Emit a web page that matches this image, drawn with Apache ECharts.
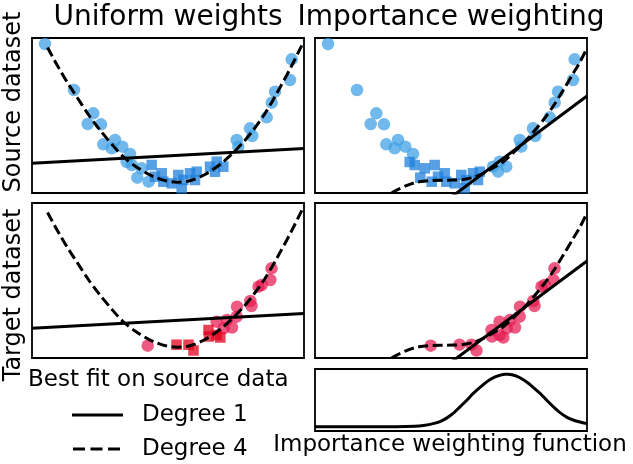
<!DOCTYPE html>
<html><head><meta charset="utf-8">
<script src="https://cdn.jsdelivr.net/npm/echarts@6/dist/echarts.min.js"></script>
<style>html,body{margin:0;padding:0;background:#fff}#c{width:633px;height:464px}</style>
</head><body><div id="c"></div>
<script>
// ---------- data ----------
// Source dataset (shared by the two top panels)
const srcX = [13, 42, 61.3, 55.7, 69, 71.3, 83, 79.7, 90.3, 98, 94.7, 99.7, 109.7, 105.3, 116.7, 119.7, 123, 129.7, 131.3, 139.7, 146.3, 151.3, 149.7, 158, 163, 164.7, 178, 184.7, 191.3, 183, 204.7, 206.3, 218, 220.3, 234.7, 239.7, 243, 258, 259.7];
const srcY = [149, 103, 79.7, 69, 68.7, 48.7, 53, 44.7, 46.3, 39, 31, 28, 24.7, 15.3, 11.3, 28, 16.3, 19.7, 11.3, 9.7, 18, 13, 4.7, 19.7, 13, 21.3, 26.3, 31.3, 26.3, 21.3, 53, 46.3, 64.7, 57, 75.7, 90.3, 101.3, 113, 133.7];
// indices of source points drawn as squares in each panel
const srcSquaresUniform = [15, 16, 17, 18, 19, 20, 21, 22, 23, 24, 25, 26, 27, 28, 29];
const srcSquaresImportance = [10, 11, 12, 13, 14, 15, 16, 17, 18, 19, 20, 21, 22, 23, 24, 25];

// Target dataset (shared by the two middle panels)
const tgtX = [115.7, 144.5, 156.5, 161.5, 177, 176.5, 184.5, 184.7, 188.3, 191.7, 195, 200, 204.7, 205, 218.3, 219.5, 226.5, 229.7, 238.3, 239.5];
const tgtY = [12.3, 13.3, 13.3, 7.5, 21.5, 28, 36.3, 23, 20.5, 29.7, 38, 30.5, 41.3, 51.3, 57, 52, 71.3, 73, 78, 89.7];
const tgtSquaresUniform = [1, 2, 3, 4, 5, 7, 8];
const tgtSquaresImportance = [];

// Best fits on source data
const fit1UniformX = [0, 272];
const fit1UniformY = [29.7, 44.5];
const fit4UniformX = [15.5, 22, 28, 36, 44.7, 56, 68, 80, 91, 103, 114.7, 125, 134.7, 144.7, 154.7, 163, 172, 181, 191, 201, 211, 221, 233, 244.7, 258, 272];
const fit4UniformY = [145.5, 133.5, 123, 109.5, 96.3, 79, 63, 48.5, 36.5, 27, 19.8, 15, 12, 10.8, 11.5, 13.8, 18, 23.5, 31, 40, 50.5, 62.5, 79.5, 99.5, 124, 152];
const fit1ImportanceX = [120, 272];
const fit1ImportanceY = [-16.2, 97];
const fit4ImportanceX = [66, 72, 76.7, 84, 90, 96, 101.7, 108, 118, 128, 138, 148, 158, 168.3, 178, 188.3, 198, 208.3, 218, 228.3, 238, 248.3, 258.3, 265, 272];
const fit4ImportanceY = [-10, -4, 0, 4, 6.8, 9.2, 10.8, 11.8, 12.5, 12.7, 12.9, 13.5, 15.5, 19.7, 25, 31.3, 40, 49.7, 60.5, 73, 86.5, 103, 119.7, 131, 145];

// Importance weighting function
const weightX = [0, 60, 100, 110, 118, 125, 132, 139, 145, 152, 158, 165, 172, 179, 185, 190, 193, 197, 202, 208, 214, 220, 226, 232, 239, 245, 252, 258, 265, 272];
const weightY = [0, 0, 0.01, 0.03, 0.06, 0.10, 0.17, 0.27, 0.38, 0.51, 0.63, 0.75, 0.86, 0.94, 0.98, 1.0, 1.0, 0.99, 0.96, 0.9, 0.82, 0.72, 0.62, 0.5, 0.37, 0.27, 0.18, 0.13, 0.09, 0.06];

// Texts
const colTitles = ['Uniform weights', 'Importance weighting'];
const rowTitles = ['Source dataset', 'Target dataset'];
const legendTitle = 'Best fit on source data';
const legendNames = ['Degree 1', 'Degree 4'];
const weightTitle = 'Importance weighting function';

// ---------- chart ----------
const FONT = 'DejaVu Sans';
const BLUE_C = '#3a9ee4', BLUE_S = '#1f80dc', RED_C = '#e6194f', RED_S = '#e0001c';

function pts(xs, ys, keep) {
  const out = [];
  for (let i = 0; i < xs.length; i++) if (!keep || keep(i)) out.push([xs[i], ys[i]]);
  return out;
}
const grids = [
  {left: 32, top: 38, width: 272, height: 155},
  {left: 315, top: 38, width: 272, height: 155},
  {left: 32, top: 203, width: 272, height: 155},
  {left: 315, top: 203, width: 272, height: 155},
  {left: 315, top: 369, width: 272, height: 62}
].map(g => Object.assign(g, {show: true, borderColor: '#000', borderWidth: 1.8, backgroundColor: 'rgba(0,0,0,0)'}));

const xAxes = grids.map((g, i) => ({type: 'value', gridIndex: i, min: 0, max: 272, show: false}));
const yAxes = grids.map((g, i) => i < 4
  ? {type: 'value', gridIndex: i, min: 0, max: 155, show: false}
  : {type: 'value', gridIndex: i, min: -0.08, max: 1.1, show: false});

const series = [];
function scatter(idx, xs, ys, squares, cColor, sColor) {
  const sq = new Set(squares);
  series.push({type: 'scatter', xAxisIndex: idx, yAxisIndex: idx, z: 2, symbol: 'circle', symbolSize: 12.5,
    itemStyle: {color: cColor, opacity: 0.72}, data: pts(xs, ys, i => !sq.has(i)), silent: true});
  series.push({type: 'scatter', xAxisIndex: idx, yAxisIndex: idx, z: 2, symbol: 'rect', symbolSize: 10.5,
    itemStyle: {color: sColor, opacity: 0.75}, data: pts(xs, ys, i => sq.has(i)), silent: true});
}
function line(idx, xs, ys, dashed, smooth, width) {
  series.push({type: 'line', xAxisIndex: idx, yAxisIndex: idx, z: 3, showSymbol: false, symbol: 'none',
    clip: true, smooth: smooth ? 0.3 : false, silent: true,
    lineStyle: {color: '#000', width: width || 3, type: dashed ? [10, 4.5] : 'solid', cap: 'butt', join: 'round'},
    data: pts(xs, ys)});
}
scatter(0, srcX, srcY, srcSquaresUniform, BLUE_C, BLUE_S);
scatter(1, srcX, srcY, srcSquaresImportance, BLUE_C, BLUE_S);
scatter(2, tgtX, tgtY, tgtSquaresUniform, RED_C, RED_S);
scatter(3, tgtX, tgtY, tgtSquaresImportance, RED_C, RED_S);
[0, 2].forEach(i => { line(i, fit1UniformX, fit1UniformY, false, false); line(i, fit4UniformX, fit4UniformY, true, true); });
[1, 3].forEach(i => { line(i, fit1ImportanceX, fit1ImportanceY, false, false); line(i, fit4ImportanceX, fit4ImportanceY, true, true); });
line(4, weightX, weightY, false, true, 3);

const txt = (x, y, text, size, align, rot) => ({type: 'text', x, y, rotation: rot || 0, silent: true,
  style: {text, fill: '#000', font: size + 'px "' + FONT + '"', textAlign: align || 'left', textVerticalAlign: 'middle'}});
const graphic = [
  txt(168, 18, colTitles[0], 28, 'center'),
  txt(451, 18, colTitles[1], 28, 'center'),
  txt(14, 102, rowTitles[0], 24, 'center', Math.PI / 2),
  txt(14, 295, rowTitles[1], 24, 'center', Math.PI / 2),
  txt(28, 380.5, legendTitle, 23, 'left'),
  txt(142, 415, legendNames[0], 23, 'left'),
  txt(142, 449, legendNames[1], 23, 'left'),
  txt(450, 445, weightTitle, 23, 'center'),
  {type: 'line', silent: true, shape: {x1: 72, y1: 415, x2: 123, y2: 415}, style: {stroke: '#000', lineWidth: 3}},
  {type: 'line', silent: true, shape: {x1: 73, y1: 449, x2: 120, y2: 449}, style: {stroke: '#000', lineWidth: 3, lineDash: [12, 5.5]}}
];

const chart = echarts.init(document.getElementById('c'), null, {renderer: 'canvas'});
chart.setOption({animation: false, backgroundColor: '#fff', grid: grids, xAxis: xAxes, yAxis: yAxes, series, graphic});
</script>
</body></html>
